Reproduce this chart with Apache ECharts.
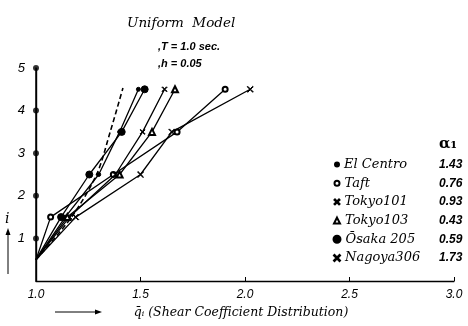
<!DOCTYPE html>
<html>
<head>
<meta charset="utf-8">
<script src="https://cdn.jsdelivr.net/npm/echarts@6/dist/echarts.min.js"></script>
<style>
html,body{margin:0;padding:0;background:#fff;}
#chart{width:468px;height:326px;}
</style>
</head>
<body>
<div id="chart"></div>
<script>
// ---- data ----
const levels = [0.5, 1.5, 2.5, 3.5, 4.5];
const elCentro  = [1.00, 1.14, 1.30, 1.40, 1.49];
const taft      = [1.00, 1.07, 1.37, 1.675, 1.905];
const tokyo101  = [1.00, 1.16, 1.38, 1.51, 1.615];
const tokyo103  = [1.00, 1.15, 1.40, 1.555, 1.665];
const osaka205  = [1.00, 1.12, 1.255, 1.41, 1.52];
const nagoya306 = [1.00, 1.19, 1.50, 1.65, 2.025];
const dashedLevels = [0.5, 1.5, 2.5, 3.5, 4.53];
const dashedCurve  = [1.00, 1.17, 1.29, 1.355, 1.416];
const floorLevels = [1, 2, 3, 4, 5];
const seriesNames = ['El Centro', 'Taft', 'Tokyo101', 'Tokyo103', 'Ōsaka 205', 'Nagoya306'];
const alpha1 = ['1.43', '0.76', '0.93', '0.43', '0.59', '1.73'];
const xTicks = [1.0, 1.5, 2.0, 2.5, 3.0];

// ---- styling ----
const smallX = 'path://M0,1 L1,0 L5,4 L9,0 L10,1 L6,5 L10,9 L9,10 L5,6 L1,10 L0,9 L4,5 Z';
const bigX = 'path://M0,0.8 L0.8,0 L5,4.2 L9.2,0 L10,0.8 L5.8,5 L10,9.2 L9.2,10 L5,5.8 L0.8,10 L0,9.2 L4.2,5 Z';
const styles = [
  {symbol: 'circle', size: 4},
  {symbol: 'emptyCircle', size: 5},
  {symbol: smallX, size: 5},
  {symbol: 'emptyTriangle', size: 6},
  {symbol: 'circle', size: 7},
  {symbol: bigX, size: 6}
];
const values = [elCentro, taft, tokyo101, tokyo103, osaka205, nagoya306];
const pairs = (xs, ys) => xs.map((v, k) => [v, ys[k]]);

const serif = '"DejaVu Serif", serif';
const sans = '"Liberation Sans", "DejaVu Sans", sans-serif';

const series = seriesNames.map((name, k) => ({
  name: name,
  type: 'line',
  data: pairs(values[k], levels),
  symbol: styles[k].symbol,
  symbolSize: styles[k].size,
  showAllSymbol: true,
  lineStyle: {color: '#000', width: 1.3},
  itemStyle: {color: '#000', borderColor: '#000', borderWidth: 1},
  z: 3,
  animation: false
}));
// first points coincide at the origin (1.0, 0.5); hide marker there
series.forEach(s => { s.data[0] = {value: s.data[0], symbol: 'none'}; });

series.push({
  name: 'curve',
  type: 'line',
  data: pairs(dashedCurve, dashedLevels),
  smooth: 0.3,
  symbol: 'none',
  lineStyle: {color: '#000', width: 1.6, type: [5, 3]},
  z: 2,
  animation: false
});
// floor-level dots on the storey axis (q = 1.0)
series.push({
  name: 'floors',
  type: 'scatter',
  data: floorLevels.map(v => [1.0, v]),
  symbol: 'circle',
  symbolSize: 6,
  itemStyle: {color: '#000'},
  clip: false,
  z: 5,
  animation: false
});

const legends = seriesNames.map((name, k) => {
  const w = styles[k].size;
  return {
    data: [{name: name, icon: styles[k].symbol}],
    orient: 'vertical',
    left: 331 - w / 2,
    top: 161 + k * 18.7 - 8,
    itemWidth: w,
    itemHeight: w,
    itemGap: 0,
    selectedMode: false,
    formatter: n => '{n|' + n + '}{v|' + alpha1[k] + '}',
    textStyle: {
      color: '#000',
      rich: {
        n: {fontFamily: serif, fontStyle: 'italic', fontSize: 13, width: 97 - w / 2, color: '#000'},
        v: {fontFamily: sans, fontStyle: 'italic', fontWeight: 'bold', fontSize: 12, color: '#000'}
      }
    }
  };
});

const chart = echarts.init(document.getElementById('chart'), null, {renderer: 'canvas'});
chart.setOption({
  animation: false,
  backgroundColor: '#fff',
  title: [
    {text: 'Uniform  Model', left: 122, top: 11,
     textStyle: {fontFamily: serif, fontStyle: 'italic', fontSize: 13.5, fontWeight: 'normal', color: '#000'}},
    {text: ',T = 1.0 sec.', left: 153, top: 36,
     textStyle: {fontFamily: sans, fontStyle: 'italic', fontSize: 11, fontWeight: 'bold', color: '#000'}},
    {text: ',h = 0.05', left: 153, top: 53,
     textStyle: {fontFamily: sans, fontStyle: 'italic', fontSize: 11, fontWeight: 'bold', color: '#000'}},
    {text: 'α₁', left: 434, top: 132,
     textStyle: {fontFamily: serif, fontSize: 15, fontWeight: 'bold', color: '#000'}}
  ],
  legend: legends,
  grid: {left: 36, right: 14, top: 68, bottom: 45, containLabel: false},
  xAxis: {
    type: 'value', min: 1.0, max: 3.0, interval: 0.5,
    name: 'q̄ᵢ (Shear Coefficient Distribution)',
    nameLocation: 'middle', nameGap: 24,
    nameTextStyle: {fontFamily: serif, fontStyle: 'italic', fontSize: 12.5, color: '#000', padding: [0, 8, 0, 0]},
    axisLine: {show: true, onZero: false, lineStyle: {color: '#000', width: 1.3}},
    axisTick: {inside: true, length: 4, lineStyle: {color: '#000'}},
    axisLabel: {margin: 8, fontFamily: sans, fontStyle: 'italic', fontSize: 12, color: '#000',
      formatter: v => xTicks.includes(v) ? v.toFixed(1) : ''},
    splitLine: {show: false}
  },
  yAxis: {
    type: 'value', min: 0, max: 5, interval: 1, position: 'left',
    axisLine: {show: true, onZero: false, lineStyle: {color: '#000', width: 1.5, type: 'solid'}},
    axisTick: {show: false},
    axisLabel: {margin: 11, fontFamily: sans, fontStyle: 'italic', fontSize: 13, color: '#000',
      formatter: v => v === 0 ? '' : String(v)},
    splitLine: {show: false}
  },
  series: series
});

// decorations, with the storey axis line placed through the library's scales
const p0 = chart.convertToPixel({gridIndex: 0}, [1.0, 0]);
const p1 = chart.convertToPixel({gridIndex: 0}, [1.0, floorLevels[floorLevels.length - 1]]);
chart.setOption({
  graphic: [
    {type: 'line', shape: {x1: 8, y1: 274, x2: 8, y2: 234}, style: {stroke: '#000', lineWidth: 1}},
    {type: 'polygon', shape: {points: [[8, 228], [5.5, 235], [10.5, 235]]}, style: {fill: '#000'}},
    {type: 'text', left: 5, top: 212, style: {text: 'i', font: 'italic 14px "DejaVu Serif"', fill: '#000'}},
    {type: 'line', shape: {x1: 55, y1: 312, x2: 96, y2: 312}, style: {stroke: '#000', lineWidth: 1}},
    {type: 'polygon', shape: {points: [[102, 312], [95, 309.5], [95, 314.5]]}, style: {fill: '#000'}},
    {type: 'line', z: 10, shape: {x1: Math.round(p0[0]) + 0.5, y1: p0[1], x2: Math.round(p1[0]) + 0.5, y2: p1[1]},
     style: {stroke: '#000', lineWidth: 1.4}}
  ]
});
</script>
</body>
</html>
